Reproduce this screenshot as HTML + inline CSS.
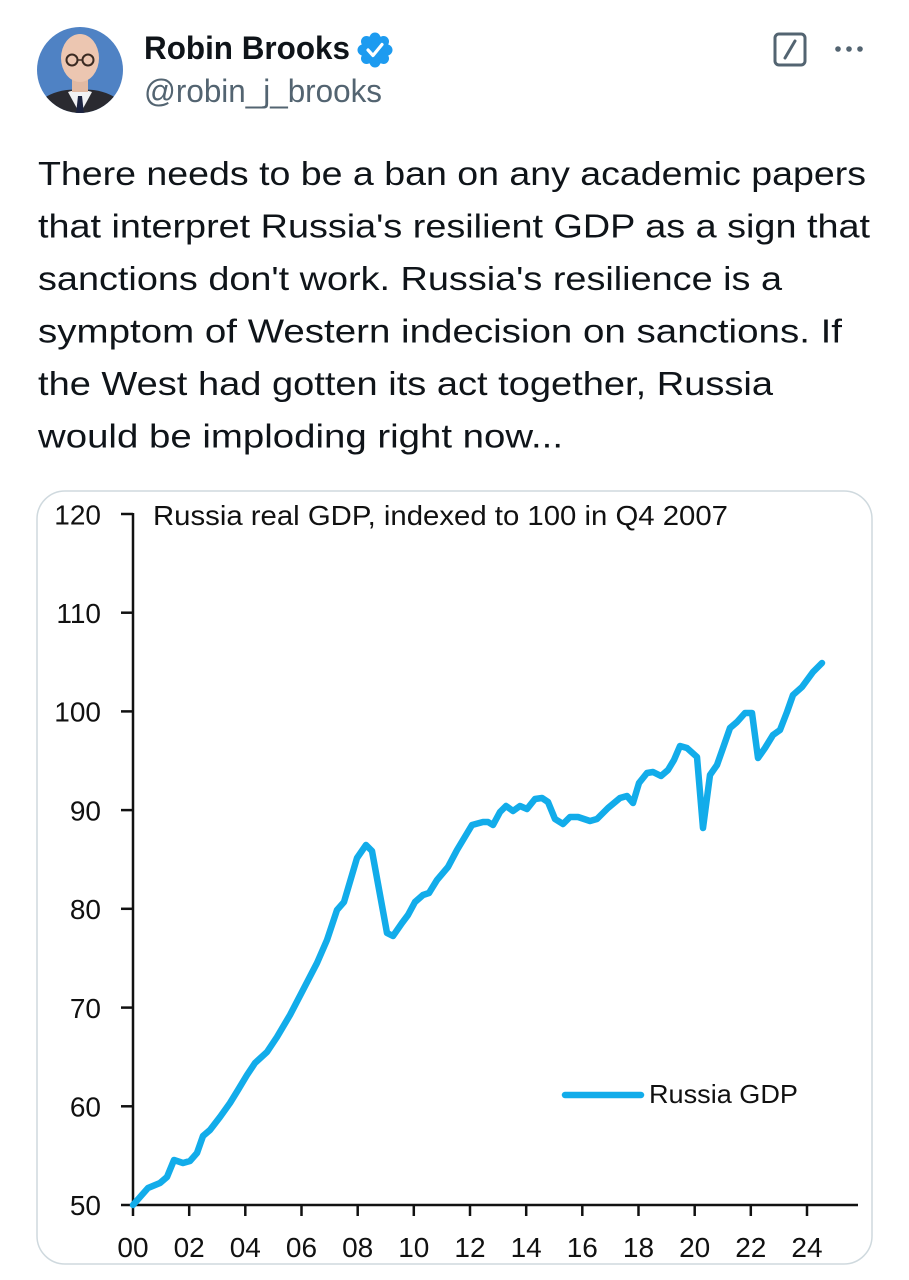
<!DOCTYPE html>
<html>
<head>
<meta charset="utf-8">
<style>
html,body{margin:0;padding:0;background:#fff;}
svg{display:block;}
text{font-family:"Liberation Sans",Arial,sans-serif;}
</style>
</head>
<body>
<svg width="909" height="1280" viewBox="0 0 909 1280" xmlns="http://www.w3.org/2000/svg">
  <rect width="909" height="1280" fill="#ffffff"/>
  <defs>
    <clipPath id="av"><circle cx="80" cy="70" r="43"/></clipPath>
  </defs>

  <!-- Avatar -->
  <g clip-path="url(#av)">
    <rect x="37" y="27" width="87" height="87" fill="#4f82c4"/>
    <path d="M37,114 L44,98 Q60,88 80,90 Q100,88 116,98 L124,114 Z" fill="#2a2a30"/>
    <path d="M68,92 L80,114 L92,92 Q80,88 68,92 Z" fill="#f2f2f4"/>
    <path d="M78,96 L82,96 L84,114 L76,114 Z" fill="#1c2340"/>
    <rect x="72" y="78" width="16" height="14" fill="#e2b9a2"/>
    <ellipse cx="80" cy="58" rx="19" ry="24" fill="#ecc6b1"/>
    <circle cx="72" cy="60" r="5.5" fill="none" stroke="#3a2a22" stroke-width="2"/>
    <circle cx="88" cy="60" r="5.5" fill="none" stroke="#3a2a22" stroke-width="2"/>
    <line x1="77.5" y1="60" x2="82.5" y2="60" stroke="#3a2a22" stroke-width="1.5"/>
  </g>

  <!-- Name & handle -->
  <text x="144" y="59" font-size="32" font-weight="bold" fill="#0f1419" textLength="206" lengthAdjust="spacingAndGlyphs">Robin Brooks</text>
  <!-- Verified badge -->
  <g fill="#1d9bf0">
    <circle cx="375" cy="50" r="14.5"/>
    <circle cx="375" cy="38" r="5.5"/>
    <circle cx="375" cy="62" r="5.5"/>
    <circle cx="363" cy="50" r="5.5"/>
    <circle cx="387" cy="50" r="5.5"/>
    <circle cx="366.5" cy="41.5" r="5.5"/>
    <circle cx="383.5" cy="41.5" r="5.5"/>
    <circle cx="366.5" cy="58.5" r="5.5"/>
    <circle cx="383.5" cy="58.5" r="5.5"/>
  </g>
  <polyline points="368,50 373,55.5 382,44.5" fill="none" stroke="#ffffff" stroke-width="3.2" stroke-linecap="round" stroke-linejoin="round"/>
  <text x="144" y="102" font-size="32" fill="#536471" textLength="238" lengthAdjust="spacingAndGlyphs">@robin_j_brooks</text>

  <!-- Grok icon and dots -->
  <rect x="775" y="34" width="30" height="31" rx="4" fill="none" stroke="#536471" stroke-width="3"/>
  <line x1="795" y1="41" x2="785" y2="58" stroke="#536471" stroke-width="3" stroke-linecap="round"/>
  <circle cx="838" cy="49" r="2.8" fill="#536471"/>
  <circle cx="849" cy="49" r="2.8" fill="#536471"/>
  <circle cx="860" cy="49" r="2.8" fill="#536471"/>

  <!-- Tweet text -->
  <g font-size="33.5" fill="#0f1419">
    <text x="38" y="185" textLength="828" lengthAdjust="spacingAndGlyphs">There needs to be a ban on any academic papers</text>
    <text x="38" y="237.5" textLength="832" lengthAdjust="spacingAndGlyphs">that interpret Russia's resilient GDP as a sign that</text>
    <text x="38" y="290" textLength="744" lengthAdjust="spacingAndGlyphs">sanctions don't work. Russia's resilience is a</text>
    <text x="38" y="342.5" textLength="804" lengthAdjust="spacingAndGlyphs">symptom of Western indecision on sanctions. If</text>
    <text x="38" y="395" textLength="735" lengthAdjust="spacingAndGlyphs">the West had gotten its act together, Russia</text>
    <text x="38" y="447.5" textLength="525" lengthAdjust="spacingAndGlyphs">would be imploding right now...</text>
  </g>

  <!-- Card -->
  <rect x="37" y="491" width="835" height="773" rx="28" ry="28" fill="#ffffff" stroke="#cfd9de" stroke-width="1.5"/>

  <!-- Chart title -->
  <text x="153" y="525" font-size="28" fill="#111" textLength="575" lengthAdjust="spacingAndGlyphs">Russia real GDP, indexed to 100 in Q4 2007</text>

  <!-- Axes -->
  <g stroke="#111" stroke-width="2.5" fill="none">
    <line x1="133" y1="513" x2="133" y2="1206"/>
    <line x1="121" y1="1205" x2="858" y2="1205"/>
    <line x1="121" y1="514" x2="133" y2="514"/>
    <line x1="121" y1="612.7" x2="133" y2="612.7"/>
    <line x1="121" y1="711.4" x2="133" y2="711.4"/>
    <line x1="121" y1="810.1" x2="133" y2="810.1"/>
    <line x1="121" y1="908.8" x2="133" y2="908.8"/>
    <line x1="121" y1="1007.6" x2="133" y2="1007.6"/>
    <line x1="121" y1="1106.3" x2="133" y2="1106.3"/>
    <line x1="133" y1="1205" x2="133" y2="1216"/>
    <line x1="189.2" y1="1205" x2="189.2" y2="1216"/>
    <line x1="245.3" y1="1205" x2="245.3" y2="1216"/>
    <line x1="301.5" y1="1205" x2="301.5" y2="1216"/>
    <line x1="357.7" y1="1205" x2="357.7" y2="1216"/>
    <line x1="413.8" y1="1205" x2="413.8" y2="1216"/>
    <line x1="470" y1="1205" x2="470" y2="1216"/>
    <line x1="526.2" y1="1205" x2="526.2" y2="1216"/>
    <line x1="582.3" y1="1205" x2="582.3" y2="1216"/>
    <line x1="638.5" y1="1205" x2="638.5" y2="1216"/>
    <line x1="694.7" y1="1205" x2="694.7" y2="1216"/>
    <line x1="750.8" y1="1205" x2="750.8" y2="1216"/>
    <line x1="807" y1="1205" x2="807" y2="1216"/>
  </g>

  <!-- Y labels -->
  <g font-size="28" fill="#111" text-anchor="end">
    <text x="101" y="524.5">120</text>
    <text x="101" y="623">110</text>
    <text x="101" y="721.5">100</text>
    <text x="101" y="820.5">90</text>
    <text x="101" y="919">80</text>
    <text x="101" y="1018">70</text>
    <text x="101" y="1116.5">60</text>
    <text x="101" y="1215">50</text>
  </g>

  <!-- X labels -->
  <g font-size="28" fill="#111" text-anchor="middle">
    <text x="133" y="1257">00</text>
    <text x="189.2" y="1257">02</text>
    <text x="245.3" y="1257">04</text>
    <text x="301.5" y="1257">06</text>
    <text x="357.7" y="1257">08</text>
    <text x="413.8" y="1257">10</text>
    <text x="470" y="1257">12</text>
    <text x="526.2" y="1257">14</text>
    <text x="582.3" y="1257">16</text>
    <text x="638.5" y="1257">18</text>
    <text x="694.7" y="1257">20</text>
    <text x="750.8" y="1257">22</text>
    <text x="807" y="1257">24</text>
  </g>

  <!-- Series -->
  <polyline fill="none" stroke="#12acea" stroke-width="6.5" stroke-linejoin="round" stroke-linecap="round"
    points="133,1205 148,1188 160,1183 167,1177 174,1160 183,1163 190,1161 197,1153 203,1136 210,1130 220,1117 230,1103 238,1090 247,1075 255,1063 267,1052 277,1037 290,1015 303,990 317,963 327,940 337,910 344,902 357,858 366,845 372,851 387,933 393,936 402,923 408,915 415,902 423,895 429,893 437,880 448,867 457,850 463,840 472,825 483,822 488,822 493,825 500,812 506,806 513,811 520,806 527,809 535,799 542,798 548,802 555,819 563,824 570,817 578,817 590,821 597,819 608,808 620,798 627,796 633,803 639,783 647,773 653,772 661,776 668,770 674,760 680,746 687,748 697,757 703,828 710,775 717,765 723,748 730,728 737,722 745,713 752,713 758,758 765,748 773,735 780,730 787,712 793,695 802,687 813,672 822,663"/>

  <!-- Legend -->
  <line x1="565" y1="1095" x2="641" y2="1095" stroke="#12acea" stroke-width="6.5" stroke-linecap="round"/>
  <text x="649" y="1103" font-size="26" fill="#111" textLength="149" lengthAdjust="spacingAndGlyphs">Russia GDP</text>
</svg>
</body>
</html>
